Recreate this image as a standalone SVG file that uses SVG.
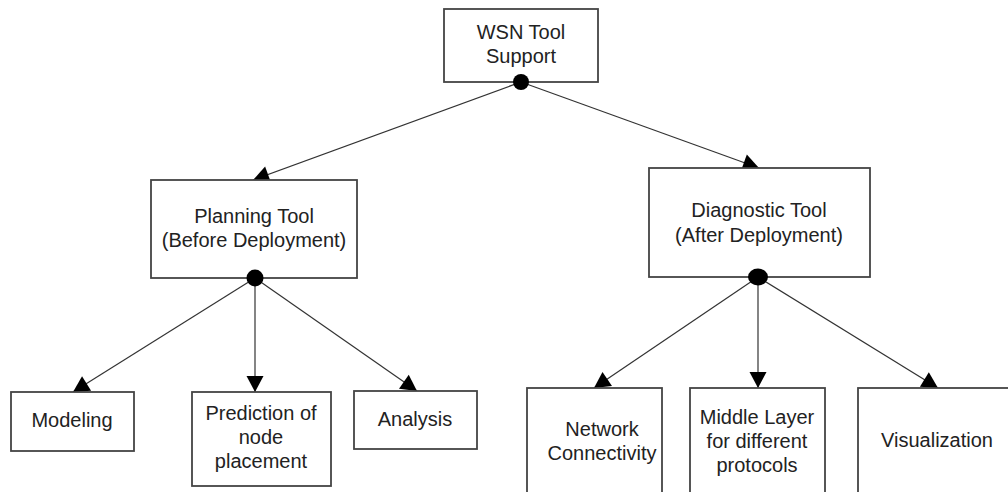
<svg xmlns="http://www.w3.org/2000/svg" width="1008" height="492" viewBox="0 0 1008 492">
<style>
.box{fill:#fff;stroke:#444;stroke-width:1.8}
.t{font-family:"Liberation Sans",Arial,sans-serif;font-size:20px;fill:#222;text-anchor:middle}
.c{stroke:#333;stroke-width:1.2;fill:none;marker-end:url(#ah)}
.dot{fill:#000}
</style>
<defs>
<marker id="ah" markerUnits="userSpaceOnUse" markerWidth="18" markerHeight="18" refX="17" refY="8.5" orient="auto" viewBox="0 0 18 17">
<path d="M1,0 L17,8.5 L1,17 Z" fill="#000"/>
</marker>
</defs>
<rect width="1008" height="492" fill="#fff"/>
<g id="connectors">
<line class="c" x1="521" y1="82" x2="253" y2="180"/>
<line class="c" x1="521" y1="82" x2="759" y2="168"/>
<line class="c" x1="255" y1="278" x2="73" y2="392"/>
<line class="c" x1="255" y1="278" x2="255" y2="392"/>
<line class="c" x1="255" y1="278" x2="417" y2="391"/>
<line class="c" x1="758" y1="277" x2="594" y2="388"/>
<line class="c" x1="758" y1="277" x2="758" y2="388"/>
<line class="c" x1="758" y1="277" x2="938" y2="388"/>
</g>
<g id="wsn">
<rect class="box" x="444" y="9" width="154" height="73"/>
<text class="t" x="521" y="39">WSN Tool</text>
<text class="t" x="521" y="63">Support</text>
<circle class="dot" cx="521" cy="82" r="8"/>
</g>
<g id="planning">
<rect class="box" x="151" y="180" width="206" height="98"/>
<text class="t" x="254" y="223">Planning Tool</text>
<text class="t" x="254" y="247">(Before Deployment)</text>
<circle class="dot" cx="255" cy="278" r="8.5"/>
</g>
<g id="diagnostic">
<rect class="box" x="649" y="168" width="221" height="109"/>
<text class="t" x="759" y="217">Diagnostic Tool</text>
<text class="t" x="759" y="242">(After Deployment)</text>
<ellipse class="dot" cx="758" cy="277" rx="10" ry="8.5"/>
</g>
<g id="modeling">
<rect class="box" x="11" y="392" width="123" height="59"/>
<text class="t" x="72" y="427">Modeling</text>
</g>
<g id="prediction">
<rect class="box" x="192" y="392" width="139" height="94"/>
<text class="t" x="261" y="420">Prediction of</text>
<text class="t" x="261" y="444">node</text>
<text class="t" x="261" y="468">placement</text>
</g>
<g id="analysis">
<rect class="box" x="354" y="391" width="123" height="58"/>
<text class="t" x="415" y="426">Analysis</text>
</g>
<g id="network">
<rect class="box" x="527" y="388" width="135" height="120"/>
<text class="t" x="602" y="436">Network</text>
<text class="t" x="602" y="460">Connectivity</text>
</g>
<g id="middle">
<rect class="box" x="690" y="388" width="135" height="120"/>
<text class="t" x="757" y="424">Middle Layer</text>
<text class="t" x="757" y="448">for different</text>
<text class="t" x="757" y="472">protocols</text>
</g>
<g id="visualization">
<rect class="box" x="858" y="388" width="170" height="120"/>
<text class="t" x="937" y="447">Visualization</text>
</g>
</svg>
